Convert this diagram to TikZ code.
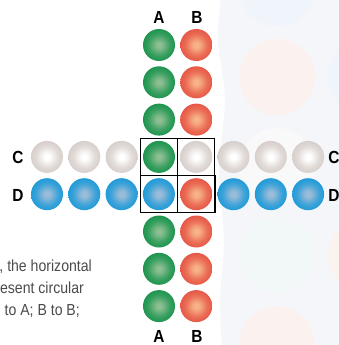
\documentclass[tikz,border=0pt]{standalone}
\usepackage{fontspec}
\setmainfont{Liberation Sans}[FakeStretch=0.88]
\newfontfamily\labelfont{Liberation Sans}[FakeStretch=0.88]
\usepackage{xcolor}
\definecolor{greenout}{RGB}{0,138,62}
\definecolor{greenin}{RGB}{140,190,145}
\definecolor{redout}{RGB}{226,64,54}
\definecolor{redin}{RGB}{247,178,135}
\definecolor{greyout}{RGB}{204,194,189}
\definecolor{greyin}{RGB}{255,255,255}
\definecolor{blueout}{RGB}{0,146,216}
\definecolor{bluein}{RGB}{155,188,216}
\definecolor{captiongrey}{RGB}{75,75,75}
\definecolor{backband}{RGB}{245,246,250}
\definecolor{faintred}{RGB}{251,242,240}
\definecolor{faintblue}{RGB}{240,245,252}
\definecolor{faintgreen}{RGB}{242,248,247}
\definecolor{faintwhite}{RGB}{249,249,250}
\definecolor{faintorange}{RGB}{251,243,238}
\newcommand{\ballstep}{37.3}
\newcommand{\firstx}{47}
\newcommand{\firsty}{45}
\newcommand{\colA}{159}
\newcommand{\colB}{196.3}
\newcommand{\rowC}{156.9}
\newcommand{\rowD}{194.2}
\colorlet{ballin}{white}
\colorlet{ballout}{black}
\pgfdeclareradialshading[ballin,ballout]{softball}{\pgfpoint{0bp}{0bp}}{color(0bp)=(ballin); color(4bp)=(ballin); color(17bp)=(ballin!40!ballout); color(34bp)=(ballout); color(46bp)=(ballout!88!black); color(50bp)=(ballout!78!black)}

\begin{document}
\begin{tikzpicture}[x=1pt,y=-1pt,
    ball/.style 2 args={circle,inner sep=0,minimum size=32,
        /utils/exec={\colorlet{ballin}{#1}\colorlet{ballout}{#2}},shade,shading=softball},
    greenball/.style={ball={greenin}{greenout}},
    redball/.style={ball={redin}{redout}},
    greyball/.style={ball={greyin}{greyout}},
    blueball/.style={ball={bluein}{blueout}},
    cellbox/.style={draw,line width=1.2pt,minimum size=\ballstep,inner sep=0},
    lab/.style={font=\labelfont\bfseries\fontsize{17.5}{17.5}\selectfont,inner sep=0},
    caption/.style={font=\fontsize{16}{19}\selectfont,text=captiongrey,inner sep=0,anchor=base east}]
    \useasboundingbox[fill=white] (0,0) rectangle (339,345);
    
    % faint backdrop on the right
    \begin{scope}
        \clip plot[smooth] coordinates {(221,-2) (218,40) (225,100) (219,170) (224,240) (220,300) (222,347)} -- (340,347) -- (340,-2) -- cycle;
        \fill[backband] (200,-2) rectangle (340,347);
        \fill[faintblue] (277,-12) circle (38);
        \fill[faintred] (277,77) circle (38);
        \fill[faintwhite] (277,166) circle (38);
        \fill[faintgreen] (277,255) circle (38);
        \fill[faintred] (277,344) circle (38);
        \fill[faintblue] (366,77) circle (38);
        \fill[faintorange] (366,255) circle (38);
    \end{scope}
    
    % vertical strands
    \foreach \i in {1,2,3,4,6,7,8}{
        \node[greenball] (A\i) at (\colA,\firsty+\ballstep*\i-\ballstep) {};
    }
    \foreach \i in {1,2,3,5,6,7,8}{
        \node[redball] (B\i) at (\colB,\firsty+\ballstep*\i-\ballstep) {};
    }
    
    % horizontal strands
    \foreach \i in {1,2,3,5,6,7,8}{
        \node[greyball] (C\i) at (\firstx+\ballstep*\i-\ballstep,\rowC) {};
    }
    \foreach \i in {1,2,3,4,6,7,8}{
        \node[blueball] (D\i) at (\firstx+\ballstep*\i-\ballstep,\rowD) {};
    }
    
    % crossing
    \node[cellbox] (cellAC) at (A4) {};
    \node[cellbox] (cellBC) at (C5) {};
    \node[cellbox] (cellAD) at (D4) {};
    \node[cellbox] (cellBD) at (B5) {};
    
    \node[lab] (topA) at (\colA,17) {A};
    \node[lab] (topB) at (\colB+0.7,17) {B};
    \node[lab] (botA) at (\colA,336.5) {A};
    \node[lab] (botB) at (\colB+0.7,336.5) {B};
    \node[lab] (leftC) at (18,\rowC+1) {C};
    \node[lab] (leftD) at (18,\rowD+1) {D};
    \node[lab] (rightC) at (334,\rowC+1) {C};
    \node[lab] (rightD) at (334,\rowD+1) {D};
    
    \node[caption] (line1) at (92,271) {, the horizontal};
    \node[caption] (line2) at (84,293) {esent circular};
    \node[caption] (line3) at (80,315) {to A; B to B;};
    
\end{tikzpicture}
\end{document}
